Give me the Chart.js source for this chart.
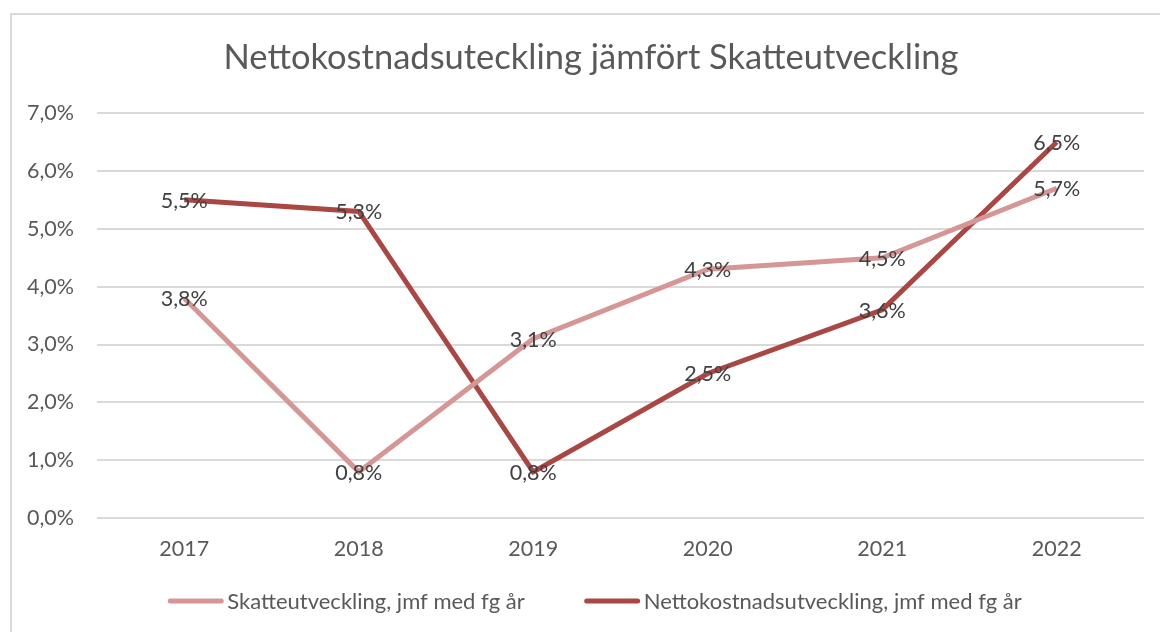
<!DOCTYPE html>
<html>
<head>
<meta charset="utf-8">
<script src="https://cdn.jsdelivr.net/npm/chart.js@4/dist/chart.umd.min.js"></script>
<style>
  html, body { margin: 0; padding: 0; background: #fff; overflow: hidden; }
  #frame { position: absolute; left: 10px; top: 13px; width: 1200px; height: 700px; border: 2px solid #d9d9d9; box-sizing: border-box; }
  #wrap { position: absolute; left: 0; top: 0; width: 1160px; height: 632px; }
</style>
</head>
<body>
<div id="frame"></div>
<div id="wrap"><canvas id="chart"></canvas></div>
<script>
// Data
const years = ['2017', '2018', '2019', '2020', '2021', '2022'];
const skatteutveckling = [3.8, 0.8, 3.1, 4.3, 4.5, 5.7];
const nettokostnad = [5.5, 5.3, 0.8, 2.5, 3.6, 6.5];

const chartTitle = 'Nettokostnadsuteckling jämfört Skatteutveckling';
const fontFamily = 'Lato, "Open Sans", sans-serif';
const textColor = '#595959';

function pct(v) {
  return v.toFixed(1).replace('.', ',') + '%';
}

// Etiketter vid varje punkt
const pointLabels = {
  id: 'pointLabels',
  afterDatasetsDraw(chart) {
    const ctx = chart.ctx;
    ctx.save();
    ctx.font = '21.5px ' + fontFamily;
    ctx.fillStyle = '#404040';
    ctx.textAlign = 'center';
    ctx.textBaseline = 'middle';
    chart.data.datasets.forEach((ds, i) => {
      const meta = chart.getDatasetMeta(i);
      meta.data.forEach((pt, j) => {
        ctx.fillText(pct(ds.data[j]), pt.x, pt.y + 1);
      });
    });
    ctx.restore();
  }
};

// Rubrik och legend som i Excel (centrerade över hela ramen)
const excelFrame = {
  id: 'excelFrame',
  afterDraw(chart) {
    const ctx = chart.ctx;
    ctx.save();

    // Rubrik
    ctx.font = '34.5px ' + fontFamily;
    ctx.fillStyle = textColor;
    ctx.textAlign = 'center';
    ctx.textBaseline = 'middle';
    ctx.fillText(chartTitle, 591, 58);

    // Legend
    const lineLen = 55, textGap = 4, itemGap = 60;
    const y = 601;
    ctx.font = '22px ' + fontFamily;
    const items = chart.data.datasets.map(ds => ({
      text: ds.label,
      color: ds.borderColor,
      width: lineLen + textGap + ctx.measureText(ds.label).width
    }));
    const total = items.reduce((s, it) => s + it.width, 0) + itemGap * (items.length - 1);
    let x = 595 - total / 2;
    items.forEach(it => {
      ctx.strokeStyle = it.color;
      ctx.lineWidth = 5;
      ctx.lineCap = 'round';
      ctx.beginPath();
      ctx.moveTo(x + 2, y);
      ctx.lineTo(x + lineLen - 2, y);
      ctx.stroke();
      ctx.fillStyle = textColor;
      ctx.textAlign = 'left';
      ctx.fillText(it.text, x + lineLen + textGap, y + 1);
      x += it.width + itemGap;
    });
    ctx.restore();
  }
};

const ctx = document.getElementById('chart').getContext('2d');
new Chart(ctx, {
  type: 'line',
  data: {
    labels: years,
    datasets: [
      {
        label: 'Skatteutveckling, jmf med fg år',
        data: skatteutveckling,
        borderColor: '#d59795',
        backgroundColor: '#d59795',
        borderWidth: 5,
        pointRadius: 0,
        tension: 0
      },
      {
        label: 'Nettokostnadsutveckling, jmf med fg år',
        data: nettokostnad,
        borderColor: '#a94744',
        backgroundColor: '#a94744',
        borderWidth: 5,
        pointRadius: 0,
        tension: 0
      }
    ]
  },
  options: {
    responsive: true,
    maintainAspectRatio: false,
    animation: false,
    layout: {
      padding: { left: 0, right: 16, top: 113, bottom: 52 }
    },
    plugins: {
      title: { display: false },
      legend: { display: false },
      tooltip: { enabled: false }
    },
    scales: {
      x: {
        offset: true,
        grid: { display: false, drawTicks: false },
        border: { display: false },
        ticks: {
          color: textColor,
          font: { family: fontFamily, size: 21.5 },
          padding: 18
        }
      },
      y: {
        min: 0,
        max: 7,
        afterFit(scale) { scale.width = 97; },
        grid: { color: '#d9d9d9', lineWidth: 2, drawTicks: false },
        border: { display: false },
        ticks: {
          stepSize: 1,
          color: textColor,
          font: { family: fontFamily, size: 21.5 },
          padding: 23,
          callback: v => pct(v)
        }
      }
    }
  },
  plugins: [pointLabels, excelFrame]
});
</script>
</body>
</html>
